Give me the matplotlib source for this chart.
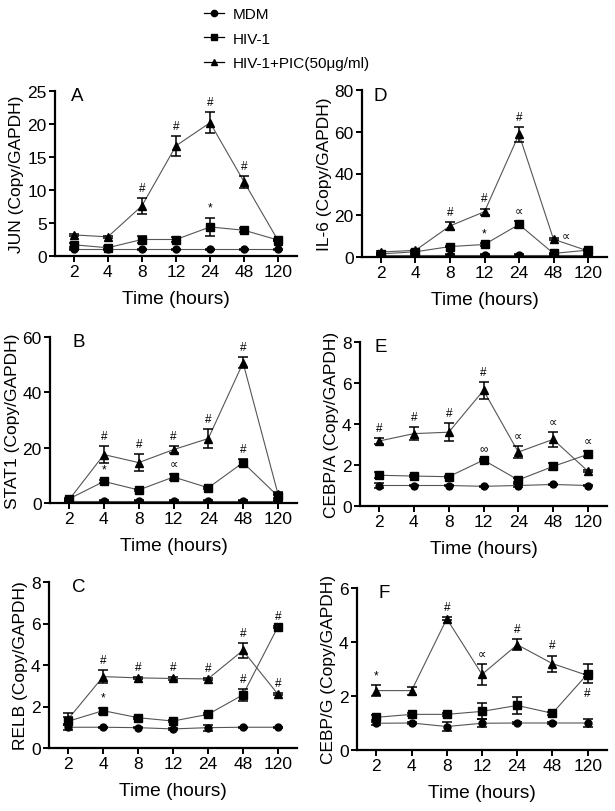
import matplotlib
matplotlib.use("Agg")
import matplotlib.pyplot as plt
from matplotlib.lines import Line2D

plt.rcParams['font.family'] = ['Liberation Sans', 'DejaVu Sans']

times = ['2', '4', '8', '12', '24', '48', '120']
series_names = ['MDM', 'HIV-1', 'HIV-1+PIC(50μg/ml)']

# Panel A: JUN
jun_mdm = [1.0, 1.0, 1.0, 1.0, 1.0, 1.0, 1.0]
jun_mdm_err = [0.1, 0.1, 0.1, 0.1, 0.1, 0.1, 0.1]
jun_hiv = [1.7, 1.25, 2.5, 2.5, 4.4, 3.9, 2.4]
jun_hiv_err = [0.3, 0.2, 0.5, 0.4, 1.4, 0.3, 0.2]
jun_pic = [3.2, 2.9, 7.6, 16.7, 20.2, 11.2, 2.3]
jun_pic_err = [0.1, 0.1, 1.2, 1.5, 1.6, 0.9, 0.1]

# Panel D: IL-6
il6_mdm = [1.0, 1.0, 1.0, 1.0, 1.0, 1.0, 1.0]
il6_mdm_err = [0.2, 0.2, 0.2, 0.2, 0.2, 0.2, 0.2]
il6_hiv = [1.5, 2.5, 5.0, 6.0, 15.6, 1.7, 3.3]
il6_hiv_err = [0.4, 0.4, 0.4, 0.5, 1.5, 0.4, 0.6]
il6_pic = [2.4, 3.2, 14.9, 21.7, 58.8, 8.5, 2.9]
il6_pic_err = [0.3, 0.3, 2.0, 1.5, 3.5, 0.4, 0.3]

# Panel B: STAT1
stat1_mdm = [0.8, 0.8, 0.8, 0.8, 0.8, 0.8, 0.8]
stat1_mdm_err = [0.2, 0.2, 0.2, 0.2, 0.2, 0.2, 0.2]
stat1_hiv = [1.5, 7.8, 4.7, 9.4, 5.5, 14.6, 2.5]
stat1_hiv_err = [0.3, 0.6, 0.4, 1.0, 0.4, 1.2, 0.8]
stat1_pic = [1.2, 17.5, 14.6, 19.3, 23.3, 50.7, 3.4]
stat1_pic_err = [0.3, 3.0, 3.2, 1.3, 3.3, 2.0, 0.5]

# Panel E: CEBP/A
cebpa_mdm = [1.0, 1.0, 1.0, 0.96, 1.0, 1.05, 1.0]
cebpa_mdm_err = [0.12, 0.03, 0.03, 0.03, 0.05, 0.03, 0.03]
cebpa_hiv = [1.5, 1.46, 1.43, 2.24, 1.27, 1.93, 2.52]
cebpa_hiv_err = [0.15, 0.05, 0.05, 0.05, 0.1, 0.15, 0.15]
cebpa_pic = [3.17, 3.53, 3.6, 5.64, 2.63, 3.25, 1.7]
cebpa_pic_err = [0.15, 0.3, 0.45, 0.4, 0.28, 0.35, 0.05]

# Panel C: RELB
relb_mdm = [1.0, 1.0, 0.98, 0.92, 0.98, 1.0, 1.0]
relb_mdm_err = [0.15, 0.03, 0.03, 0.03, 0.15, 0.03, 0.03]
relb_hiv = [1.29, 1.8, 1.46, 1.3, 1.62, 2.56, 5.83]
relb_hiv_err = [0.2, 0.15, 0.05, 0.05, 0.05, 0.28, 0.05]
relb_pic = [1.4, 3.44, 3.38, 3.35, 3.33, 4.7, 2.6]
relb_pic_err = [0.27, 0.33, 0.05, 0.05, 0.05, 0.35, 0.05]

# Panel F: CEBP/G
cebpg_mdm = [0.99, 1.0, 0.87, 0.99, 1.0, 1.0, 1.0]
cebpg_mdm_err = [0.05, 0.03, 0.15, 0.15, 0.03, 0.03, 0.15]
cebpg_hiv = [1.21, 1.32, 1.32, 1.43, 1.65, 1.36, 2.82]
cebpg_hiv_err = [0.1, 0.05, 0.05, 0.3, 0.33, 0.05, 0.35]
cebpg_pic = [2.2, 2.2, 4.86, 2.8, 3.9, 3.2, 2.76]
cebpg_pic_err = [0.2, 0.15, 0.05, 0.38, 0.2, 0.3, 0.05]

# Significance marks: (series, time index, symbol, placement)
jun_marks = [('pic', 2, '#', 'above'), ('pic', 3, '#', 'above'), ('pic', 4, '#', 'above'),
             ('pic', 5, '#', 'above'), ('hiv', 4, '*', 'above')]
il6_marks = [('pic', 2, '#', 'above'), ('pic', 3, '#', 'above'), ('pic', 4, '#', 'above'),
             ('hiv', 3, '*', 'above'), ('hiv', 4, '∝', 'above'), ('pic', 5, '∝', 'right')]
stat1_marks = [('pic', 1, '#', 'above'), ('pic', 2, '#', 'above'), ('pic', 3, '#', 'above'),
               ('pic', 4, '#', 'above'), ('pic', 5, '#', 'above'), ('hiv', 1, '*', 'above'),
               ('hiv', 3, '∝', 'above'), ('hiv', 5, '#', 'above')]
cebpa_marks = [('pic', 0, '#', 'above'), ('pic', 1, '#', 'above'), ('pic', 2, '#', 'above'),
               ('pic', 3, '#', 'above'), ('pic', 4, '∝', 'above'), ('pic', 5, '∝', 'above'),
               ('hiv', 6, '∝', 'above'), ('hiv', 3, '∞', 'above')]
relb_marks = [('pic', 1, '#', 'above'), ('pic', 2, '#', 'above'), ('pic', 3, '#', 'above'),
              ('pic', 4, '#', 'above'), ('pic', 5, '#', 'above'), ('hiv', 1, '*', 'above'),
              ('hiv', 5, '#', 'above'), ('hiv', 6, '#', 'above'), ('pic', 6, '#', 'above')]
cebpg_marks = [('pic', 0, '*', 'above'), ('pic', 2, '#', 'above'), ('pic', 3, '∝', 'above'),
               ('pic', 4, '#', 'above'), ('pic', 5, '#', 'above'), ('hiv', 6, '#', 'below')]

panels = [
    dict(letter='A', lx=0.066, ylabel='JUN (Copy/GAPDH)', ymax=25, yticks=[0, 5, 10, 15, 20, 25],
         data=(jun_mdm, jun_mdm_err, jun_hiv, jun_hiv_err, jun_pic, jun_pic_err),
         marks=jun_marks, rect=(55, 92, 257, 297)),
    dict(letter='D', lx=0.045, ylabel='IL-6 (Copy/GAPDH)', ymax=80, yticks=[0, 20, 40, 60, 80],
         data=(il6_mdm, il6_mdm_err, il6_hiv, il6_hiv_err, il6_pic, il6_pic_err),
         marks=il6_marks, rect=(362, 91, 258, 607)),
    dict(letter='B', lx=0.09, ylabel='STAT1 (Copy/GAPDH)', ymax=60, yticks=[0, 20, 40, 60],
         data=(stat1_mdm, stat1_mdm_err, stat1_hiv, stat1_hiv_err, stat1_pic, stat1_pic_err),
         marks=stat1_marks, rect=(50, 338, 504, 297)),
    dict(letter='E', lx=0.06, ylabel='CEBP/A (Copy/GAPDH)', ymax=8, yticks=[0, 2, 4, 6, 8],
         data=(cebpa_mdm, cebpa_mdm_err, cebpa_hiv, cebpa_hiv_err, cebpa_pic, cebpa_pic_err),
         marks=cebpa_marks, rect=(360, 343, 507, 607)),
    dict(letter='C', lx=0.093, ylabel='RELB (Copy/GAPDH)', ymax=8, yticks=[0, 2, 4, 6, 8],
         data=(relb_mdm, relb_mdm_err, relb_hiv, relb_hiv_err, relb_pic, relb_pic_err),
         marks=relb_marks, rect=(49, 583, 749, 297)),
    dict(letter='F', lx=0.084, ylabel='CEBP/G (Copy/GAPDH)', ymax=6, yticks=[0, 2, 4, 6],
         data=(cebpg_mdm, cebpg_mdm_err, cebpg_hiv, cebpg_hiv_err, cebpg_pic, cebpg_pic_err),
         marks=cebpg_marks, rect=(357, 589, 751, 607)),
]

W, H = 615, 812
fig = plt.figure(figsize=(W / 100, H / 100), dpi=100)

line_color = '#555555'
markers = ['o', 's', '^']
msizes = [5, 5.5, 5.8]
x = list(range(len(times)))

for p in panels:
    L, T, B, R = p['rect']
    ax = fig.add_axes([L / W, 1 - B / H, (R - L) / W, (B - T) / H])
    mdm, mdm_e, hiv, hiv_e, pic, pic_e = p['data']
    vals = {'mdm': (mdm, mdm_e), 'hiv': (hiv, hiv_e), 'pic': (pic, pic_e)}
    for (y, e), m, ms in zip([(mdm, mdm_e), (hiv, hiv_e), (pic, pic_e)], markers, msizes):
        ax.plot(x, y, color=line_color, lw=0.8, zorder=2)
        ax.errorbar(x, y, yerr=e, fmt='none', ecolor='black', elinewidth=1.1,
                    capsize=3.5, capthick=1.1, zorder=3)
        ax.plot(x, y, linestyle='none', marker=m, color='black', ms=ms, zorder=4)
    ymax = p['ymax']
    for key, i, sym, where in p['marks']:
        v, e = vals[key]
        if where == 'above':
            ax.annotate(sym, (x[i], v[i] + e[i]), xytext=(0, 3), textcoords='offset points',
                        ha='center', va='bottom', fontsize=8.5)
        elif where == 'below':
            ax.annotate(sym, (x[i], v[i] - e[i]), xytext=(0, -3), textcoords='offset points',
                        ha='center', va='top', fontsize=8.5)
        elif where == 'right':
            ax.annotate(sym, (x[i], v[i]), xytext=(6, 2), textcoords='offset points',
                        ha='left', va='center', fontsize=8.5)
    ax.set_xlim(-0.55, 6.55)
    ax.set_ylim(0, ymax)
    ax.set_yticks(p['yticks'])
    ax.set_xticks(x)
    ax.set_xticklabels(times)
    for s in ['top', 'right']:
        ax.spines[s].set_visible(False)
    for s in ['left', 'bottom']:
        ax.spines[s].set_linewidth(1.6)
    ax.spines['left'].set_bounds(0, ymax)
    ax.tick_params(axis='both', direction='out', width=1.4, length=4, labelsize=12.5,
                   pad=2)
    ax.set_ylabel(p['ylabel'], fontsize=12.5, labelpad=2)
    ax.set_xlabel('Time (hours)', fontsize=13.8, labelpad=8)
    ax.text(p['lx'], 0.97, p['letter'], transform=ax.transAxes, fontsize=13.5,
            ha='left', va='center')
    ax.patch.set_alpha(0)

handles = [Line2D([0], [0], color='black', lw=0.9, marker=m, ms=4.5)
           for m in markers]
fig.legend(handles, series_names, loc='upper left', bbox_to_anchor=(198 / W, 1 - 2 / H),
           frameon=False, fontsize=11, handlelength=1.3, handletextpad=0.6,
           labelspacing=0.68, borderaxespad=0)

fig.savefig('out.png', dpi=100)
